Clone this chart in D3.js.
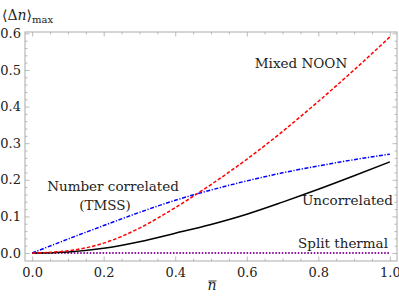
<!DOCTYPE html>
<html>
<head>
<meta charset="utf-8">
<script src="https://cdn.jsdelivr.net/npm/d3@7"></script>
<style>
  body { margin: 0; background: #fff; }
  svg text { font-family: "DejaVu Serif", serif; fill: #222; }
</style>
</head>
<body>
<div id="graph"></div>
<script>
// values
var nbar = [0, 0.1, 0.2, 0.3, 0.4, 0.5, 0.6, 0.7, 0.8, 0.9, 1.0];
var mixedNoon = [0, 0.006, 0.027, 0.068, 0.124, 0.187, 0.256, 0.332, 0.414, 0.500, 0.59];
var tmss = [0, 0.038, 0.075, 0.111, 0.144, 0.172, 0.197, 0.219, 0.238, 0.255, 0.27];
var uncorrelated = [0, 0.003, 0.013, 0.031, 0.054, 0.078, 0.106, 0.139, 0.174, 0.211, 0.249];
var splitThermal = [0, 0, 0, 0, 0, 0, 0, 0, 0, 0, 0];

var xTicks = [0, 0.2, 0.4, 0.6, 0.8, 1.0];
var yTicks = [0, 0.1, 0.2, 0.3, 0.4, 0.5, 0.6];

(function() {
  // frame box in pixels
  var fLeft = 25, fRight = 397, fTop = 32, fBottom = 261;

  var svg = d3.select("#graph").append("svg")
      .attr("width", 399)
      .attr("height", 299);

  var x = d3.scaleLinear().domain([-0.02, 1.02]).range([fLeft, fRight]);
  var y = d3.scaleLinear().domain([-0.0218, 0.6037]).range([fBottom, fTop]);

  var frameColor = "#aaa";

  // draw an axis (major + minor ticks, inward)
  function drawAxis(axisFn, scale, major, minor, transform, labels) {
    var gMinor = svg.append("g")
        .attr("transform", transform)
        .call(axisFn(scale).tickValues(minor).tickSize(-2.5).tickFormat(""));
    var gMajor = svg.append("g")
        .attr("transform", transform)
        .call(axisFn(scale).tickValues(major).tickSize(-4.5).tickPadding(4)
          .tickFormat(labels ? d3.format(".1f") : ""));
    [gMinor, gMajor].forEach(function(g) {
      g.attr("font-family", null).attr("font-size", null);
      g.select(".domain").remove();
      g.selectAll("line").attr("stroke", frameColor).attr("stroke-width", 0.8);
      g.selectAll("text").attr("fill", "#222").style("font-size", "13px");
    });
    return gMajor;
  }

  var xMinor = d3.range(0, 1.001, 0.05).filter(function(d) { return Math.abs(d * 5 - Math.round(d * 5)) > 1e-6; });
  var yMinor = d3.range(0, 0.601, 0.02).filter(function(d) { return Math.abs(d * 10 - Math.round(d * 10)) > 1e-6; });

  var gx = drawAxis(d3.axisBottom, x, xTicks, xMinor, "translate(0," + fBottom + ")", true);
  gx.selectAll("text").attr("dy", "0.95em");
  drawAxis(d3.axisTop, x, xTicks, xMinor, "translate(0," + fTop + ")", false);
  drawAxis(d3.axisLeft, y, yTicks, yMinor, "translate(" + fLeft + ",0)", true);
  drawAxis(d3.axisRight, y, yTicks, yMinor, "translate(" + fRight + ",0)", false);

  // frame
  svg.append("rect")
      .attr("x", fLeft).attr("y", fTop)
      .attr("width", fRight - fLeft).attr("height", fBottom - fTop)
      .attr("fill", "none").attr("stroke", frameColor).attr("stroke-width", 1);

  // curves
  var line = d3.line()
      .x(function(d) { return x(d[0]); })
      .y(function(d) { return y(d[1]); })
      .curve(d3.curveMonotoneX);

  function pairs(vals) { return nbar.map(function(n, i) { return [n, vals[i]]; }); }

  var series = [
    { vals: splitThermal, color: "#8e1f9e", width: 2, dash: "1.6,1.6" },
    { vals: uncorrelated, color: "#000", width: 1.5, dash: null },
    { vals: tmss, color: "#0000ff", width: 1.5, dash: "4,1.6,1.2,1.6" },
    { vals: mixedNoon, color: "#ff0000", width: 1.5, dash: "3.5,2" }
  ];

  series.forEach(function(s) {
    svg.append("path")
      .datum(pairs(s.vals))
      .attr("fill", "none")
      .attr("stroke", s.color)
      .attr("stroke-width", s.width)
      .attr("stroke-dasharray", s.dash)
      .attr("d", line);
  });

  // curve labels
  function label(txt, px, py, anchor) {
    svg.append("text")
      .attr("x", px).attr("y", py)
      .attr("text-anchor", anchor)
      .style("font-size", "13.5px")
      .text(txt);
  }
  label("Mixed NOON", 301, 68, "middle");
  label("Number correlated", 113, 191, "middle");
  label("(TMSS)", 105, 210, "middle");
  label("Uncorrelated", 393, 205, "end");
  label("Split thermal", 388, 248, "end");

  // axis titles
  var yTitle = svg.append("text").attr("x", 2).attr("y", 20).style("font-size", "14px");
  yTitle.append("tspan").text("\u27E8\u0394");
  yTitle.append("tspan").style("font-style", "italic").text("n");
  yTitle.append("tspan").text("\u27E9");
  yTitle.append("tspan").attr("dy", 3).style("font-size", "10px").text("max");

  // n-bar: italic n with a bar drawn over it
  svg.append("text")
      .attr("x", 212).attr("y", 290)
      .attr("text-anchor", "middle")
      .style("font-size", "14px")
      .style("font-style", "italic")
      .text("n");
  svg.append("line")
      .attr("x1", 208.5).attr("x2", 216.5)
      .attr("y1", 281).attr("y2", 281)
      .attr("stroke", "#222").attr("stroke-width", 0.9);
})();
</script>
</body>
</html>
